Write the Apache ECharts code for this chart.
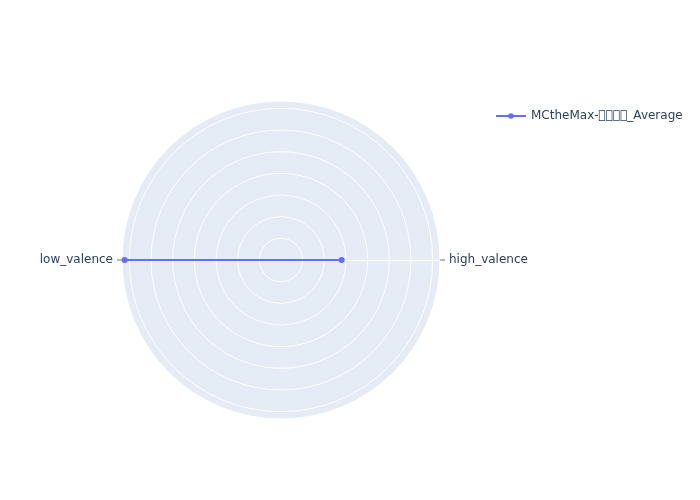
<!DOCTYPE html>
<html>
<head>
<meta charset="utf-8">
<script src="https://cdn.jsdelivr.net/npm/echarts@6/dist/echarts.min.js"></script>
<style>html,body{margin:0;padding:0;background:#fff;}#c{width:700px;height:500px;}</style>
</head>
<body>
<div id="c"></div>
<script>
var categories = ['high_valence', 'low_valence'];
var seriesName = 'MCtheMax-\uE000\uE000\uE000\uE000_Average';
var values = [0.28, 0.722];
var radialMax = 0.734;
var radialInterval = 0.1;

var center = [281, 260];
var outerRadius = 159;

var chart = echarts.init(document.getElementById('c'), null, {renderer: 'canvas'});
var font = 'DejaVu Sans';
chart.setOption({
  animation: false,
  backgroundColor: '#fff',
  textStyle: {fontFamily: font},
  legend: {
    left: 490, top: 105,
    itemWidth: 30, itemHeight: 7, itemGap: 10,
    textStyle: {fontFamily: font, fontSize: 12, color: '#2a3f5f'},
    data: [seriesName]
  },
  polar: [
    {center: center, radius: outerRadius},
    {center: center, radius: outerRadius}
  ],
  angleAxis: [{
    polarIndex: 0,
    type: 'category',
    data: categories,
    boundaryGap: true,
    startAngle: 90,
    clockwise: true,
    z: 1,
    axisLine: {show: false},
    axisTick: {show: true, alignWithLabel: true, length: 5, lineStyle: {color: '#a0a0a0', width: 1.5}},
    axisLabel: {margin: 9, fontFamily: font, fontSize: 12, color: '#2a3f5f'},
    splitLine: {show: false},
    splitArea: {show: false}
  }, {
    polarIndex: 1,
    type: 'value',
    min: 0, max: 360,
    startAngle: 0,
    z: 1,
    axisLine: {show: false},
    axisTick: {show: false},
    axisLabel: {show: false},
    splitLine: {show: false},
    splitArea: {show: false}
  }],
  radiusAxis: [{
    polarIndex: 0,
    type: 'value',
    min: 0,
    max: radialMax,
    interval: radialInterval,
    z: 1,
    axisLine: {show: false},
    axisTick: {show: false},
    axisLabel: {show: false},
    splitLine: {show: true, lineStyle: {color: '#ffffff', width: 1}},
    splitArea: {show: false}
  }, {
    polarIndex: 1,
    type: 'value',
    min: 0,
    max: radialMax,
    z: 1,
    axisLine: {show: true, lineStyle: {color: '#ffffff', width: 1}},
    axisTick: {show: false},
    axisLabel: {show: false},
    splitLine: {show: false},
    splitArea: {show: false}
  }],
  series: [{
    name: 'polar background',
    type: 'pie',
    center: center,
    radius: [0, outerRadius],
    silent: true,
    z: 0,
    label: {show: false},
    labelLine: {show: false},
    emphasis: {disabled: true},
    itemStyle: {color: '#E5ECF6', borderWidth: 0},
    data: [{value: 1, name: 'polar background'}]
  }, {
    name: seriesName,
    type: 'line',
    coordinateSystem: 'polar',
    polarIndex: 0,
    data: values,
    symbol: 'circle',
    symbolSize: 6,
    lineStyle: {color: '#636efa', width: 2},
    itemStyle: {color: '#636efa'},
    z: 3
  }]
});
</script>
</body>
</html>
